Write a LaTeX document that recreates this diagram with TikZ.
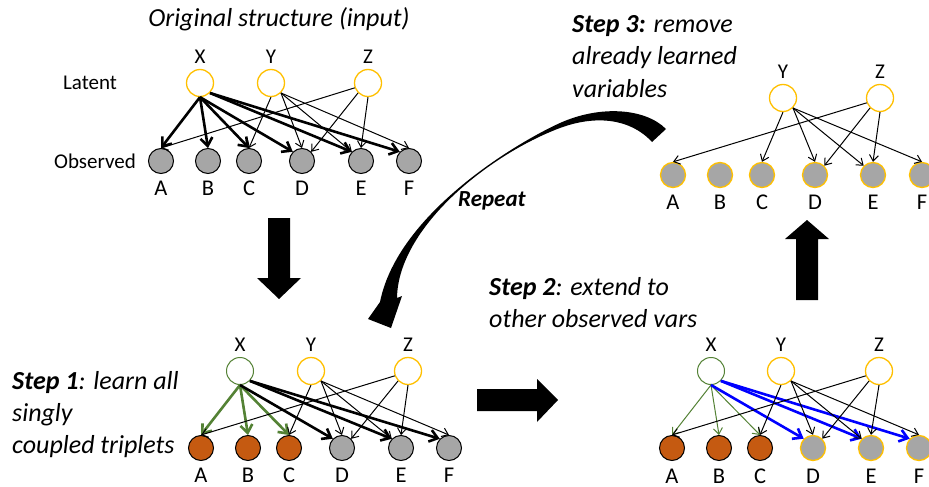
\documentclass[tikz,border=0pt]{standalone}
\usepackage{fontspec}
\setmainfont{Carlito}
\usetikzlibrary{arrows.meta}
\definecolor{latgold}{HTML}{FFC000}
\definecolor{obsgray}{HTML}{A6A6A6}
\definecolor{learnt}{HTML}{C55A11}
\definecolor{learngreen}{HTML}{548235}
\definecolor{extblue}{HTML}{0000FF}
\begin{document}
\begin{tikzpicture}[x=1pt,y=-1pt,
  lat/.style={circle, draw=latgold, line width=1.3pt, fill=white, minimum size=27pt, inner sep=0pt},
  latdone/.style={lat, draw=learngreen, line width=1pt},
  obs/.style={circle, draw=black, line width=1pt, fill=obsgray, minimum size=25pt, inner sep=0pt},
  obsdone/.style={obs, fill=learnt},
  goldrim/.style={draw=latgold, line width=1.3pt},
  lbl/.style={font=\fontsize{21}{25}\selectfont, inner sep=0pt},
  obslbl/.style={font=\fontsize{22.5}{27}\selectfont, inner sep=0pt},
  rowlbl/.style={font=\fontsize{21}{25}\selectfont, inner sep=0pt, anchor=base},
  captxt/.style={font=\fontsize{26}{32}\selectfont\itshape, anchor=base west, inner sep=0pt},
  lnk/.style={line width=1pt, -{Straight Barb[length=6pt,width=9pt]}},
  hvy/.style={line width=2.6pt, -{Straight Barb[length=8pt,width=12pt]}},
  bigarrow/.style={fill=black}]
\useasboundingbox (0,0) rectangle (929,487);
\fill[white] (0,0) rectangle (929,487);

% ---------- original structure ----------
\node[font=\fontsize{26}{32}\selectfont\itshape, anchor=base, inner sep=0pt] (title) at (279,27) {Original structure (input)};
\node[rowlbl] (latent) at (90,89) {Latent};
\node[rowlbl] (observed) at (95,168) {Observed};
\begin{scope}[shift={(200,83)}]
  \node[lat] (aX) at (0,0) {};
  \node[lat] (aY) at (71,0) {};
  \node[lat] (aZ) at (168,0) {};
  \foreach \n/\x in {X/0,Y/71,Z/168} \node[lbl] (aL\n) at (\x,-26) {\n};
  \foreach \n/\x in {A/-39,B/8,C/49,D/102,E/161,F/209} {
    \node[obs] (a\n) at (\x,78) {};
    \node[obslbl] (aL\n) at (\x,105) {\n};
  }
\end{scope}
\foreach \t/\a in {A/north,B/north,C/north,D/north west} \draw[hvy] (aX.south) -- (a\t.\a);
\foreach \t in {E,F} \draw[hvy] (aX.south east) -- (a\t.north west);
\draw[lnk] (aY.south) -- (aC.north);
\foreach \t/\a in {D/north,E/north west,F/north} \draw[lnk] (aY.south east) -- (a\t.\a);
\draw[lnk] (aZ.200) -- (aA.north);
\draw[lnk] (aZ.south west) -- (aD.north east);
\draw[lnk] (aZ.south) -- (aE.north);

% ---------- step 1 ----------
\node[captxt] (s1a) at (12,389) {\textbf{Step 1}: learn all};
\node[captxt] (s1b) at (12,421) {singly};
\node[captxt] (s1c) at (12,453) {coupled triplets};
\begin{scope}[shift={(240,371)}]
  \node[latdone] (bX) at (0,0) {};
  \node[lat] (bY) at (71,0) {};
  \node[lat] (bZ) at (168,0) {};
  \foreach \n/\x in {X/0,Y/71,Z/168} \node[lbl] (bL\n) at (\x,-26) {\n};
  \foreach \n/\x in {A/-39,B/8,C/49} {
    \node[obsdone] (b\n) at (\x,77) {};
    \node[obslbl] (bL\n) at (\x,104) {\n};
  }
  \foreach \n/\x in {D/102,E/161,F/209} {
    \node[obs] (b\n) at (\x,77) {};
    \node[obslbl] (bL\n) at (\x,104) {\n};
  }
\end{scope}
\foreach \t in {A,B,C} \draw[hvy, learngreen] (bX.south) -- (b\t.north);
\draw[hvy] (bX.south) -- (bD.north west);
\foreach \t in {E,F} \draw[hvy] (bX.south east) -- (b\t.north west);
\draw[lnk] (bY.south) -- (bC.north);
\foreach \t/\a in {D/north,E/north west,F/north} \draw[lnk] (bY.south east) -- (b\t.\a);
\draw[lnk] (bZ.200) -- (bA.north);
\draw[lnk] (bZ.south west) -- (bD.north east);
\draw[lnk] (bZ.south) -- (bE.north);

% ---------- step 2 ----------
\node[captxt] (s2a) at (489,295) {\textbf{Step 2}: extend to};
\node[captxt] (s2b) at (489,327) {other observed vars};
\begin{scope}[shift={(711,371)}]
  \node[latdone] (cX) at (0,0) {};
  \node[lat] (cY) at (70,0) {};
  \node[lat] (cZ) at (168,0) {};
  \foreach \n/\x in {X/0,Y/70,Z/168} \node[lbl] (cL\n) at (\x,-26) {\n};
  \foreach \n/\x in {A/-39,B/8,C/49} {
    \node[obsdone] (c\n) at (\x,77) {};
    \node[obslbl] (cL\n) at (\x,105) {\n};
  }
  \foreach \n/\x in {D/102,E/160,F/208} {
    \node[obs, goldrim] (c\n) at (\x,77) {};
    \node[obslbl] (cL\n) at (\x,105) {\n};
  }
\end{scope}
\foreach \t in {A,B,C} \draw[lnk, learngreen] (cX.south) -- (c\t.north);
\draw[hvy, extblue] (cX.south) -- (cD.north west);
\foreach \t in {E,F} \draw[hvy, extblue] (cX.south east) -- (c\t.north west);
\draw[lnk] (cY.south) -- (cC.north);
\foreach \t/\a in {D/north,E/north west,F/north} \draw[lnk] (cY.south east) -- (c\t.\a);
\draw[lnk] (cZ.200) -- (cA.north);
\draw[lnk] (cZ.south west) -- (cD.north east);
\draw[lnk] (cZ.south) -- (cE.north);

% ---------- step 3 ----------
\node[captxt] (s3a) at (572,33) {\textbf{Step 3:} remove};
\node[captxt] (s3b) at (572,65) {already learned};
\node[captxt] (s3c) at (572,97) {variables};
\begin{scope}[shift={(712,98)}]
  \node[lat] (dY) at (71,0) {};
  \node[lat] (dZ) at (168,0) {};
  \foreach \n/\x in {Y/71,Z/168} \node[lbl] (dL\n) at (\x,-26) {\n};
  \foreach \n/\x in {A/-39,B/8,C/50,D/103,E/161,F/210} {
    \node[obs, goldrim] (d\n) at (\x,77) {};
    \node[obslbl] (dL\n) at (\x,104) {\n};
  }
\end{scope}
\draw[lnk] (dY.south) -- (dC.north);
\foreach \t/\a in {D/north,E/north west,F/north} \draw[lnk] (dY.south east) -- (d\t.\a);
\draw[lnk] (dZ.200) -- (dA.north);
\draw[lnk] (dZ.south west) -- (dD.north east);
\draw[lnk] (dZ.south) -- (dE.north);

% ---------- block arrows between the stages ----------
\fill[bigarrow] (268,218) -- (290,218) -- (290,278) -- (301,278) -- (279,299) -- (257,278) -- (268,278) -- cycle;
\fill[bigarrow] (477,389) -- (537,389) -- (537,379) -- (558,400) -- (537,422) -- (537,411) -- (477,411) -- cycle;
\fill[bigarrow] (796,300) -- (796,239) -- (785,239) -- (807,220) -- (829,239) -- (818,239) -- (818,300) -- cycle;

% ---------- curved "repeat" arrow, tapering from both ends ----------
\fill[bigarrow] (666,129) .. controls (645,108) and (600,105) .. (560,123)
  .. controls (520,141) and (398,212) .. (380,302)
  -- (368,319) -- (391,328) -- (402,296) -- (397,298)
  .. controls (398,228) and (488,155) .. (560,128)
  .. controls (595,115) and (630,118) .. (652,142) -- cycle;
\node[font=\fontsize{23}{28}\selectfont\bfseries\itshape, anchor=base west, inner sep=0pt] (repeat) at (458,206) {Repeat};
\end{tikzpicture}
\end{document}
